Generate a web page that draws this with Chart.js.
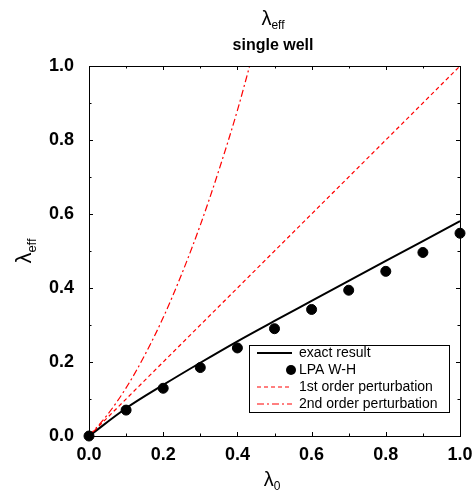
<!DOCTYPE html>
<html>
<head>
<meta charset="utf-8">
<script src="https://cdn.jsdelivr.net/npm/chart.js@4.4.1/dist/chart.umd.min.js"></script>
<style>
  html, body { margin: 0; padding: 0; background: #fff; }
  #wrap { width: 475px; height: 496px; }
</style>
</head>
<body>
<div id="wrap"><canvas id="effChart" width="475" height="496"></canvas></div>
<script>
// lambda_0 grid and the curves
var lambda0 = [0, 0.1, 0.2, 0.3, 0.4, 0.5, 0.6, 0.7, 0.8, 0.9, 1.0];
var exactResult = [0, 0.075, 0.138, 0.198, 0.256, 0.311, 0.365, 0.419, 0.473, 0.527, 0.581];
var lpaWH = [0, 0.070, 0.129, 0.185, 0.238, 0.290, 0.342, 0.394, 0.445, 0.496, 0.548];
var firstX = [0, 1.0];
var firstY = [0, 1.0];
var secondX = [0, 0.05, 0.1, 0.15, 0.2, 0.25, 0.3, 0.35, 0.4, 0.433];
var secondY = [0, 0.058, 0.13, 0.218, 0.32, 0.438, 0.57, 0.718, 0.88, 1.0];
var majorTicks = [0, 0.2, 0.4, 0.6, 0.8, 1.0];
var minorTicks = [0.1, 0.3, 0.5, 0.7, 0.9];
var legendLabels = ["exact result", "LPA W-H", "1st order perturbation", "2nd order perturbation"];

function pts(xs, ys) {
  var out = [];
  for (var i = 0; i < xs.length; i++) out.push({x: xs[i], y: ys[i]});
  return out;
}

var FONT = "'Liberation Sans', Arial, sans-serif";

// draws the frame, inward ticks, titles with subscripts and the boxed legend
var decor = {
  id: 'decor',
  afterDatasetsDraw: function (chart) {
    var ctx = chart.ctx, a = chart.chartArea;
    var xs = chart.scales.x, ys = chart.scales.y;
    ctx.save();
    ctx.strokeStyle = '#000';
    ctx.lineWidth = 1;
    ctx.strokeRect(a.left + 0.5, a.top + 0.5, a.right - a.left, a.bottom - a.top);

    function tick(v, len) {
      var px = Math.round(xs.getPixelForValue(v)) + 0.5;
      var py = Math.round(ys.getPixelForValue(v)) + 0.5;
      ctx.beginPath();
      ctx.moveTo(px, a.bottom); ctx.lineTo(px, a.bottom - len);
      ctx.moveTo(px, a.top); ctx.lineTo(px, a.top + len);
      ctx.moveTo(a.left, py); ctx.lineTo(a.left + len, py);
      ctx.moveTo(a.right, py); ctx.lineTo(a.right - len, py);
      ctx.stroke();
    }
    majorTicks.forEach(function (v) { tick(v, 4); });
    minorTicks.forEach(function (v) { tick(v, 2.5); });

    // legend box
    var lx = 249, ly = 345, lw = 200, lh = 67;
    ctx.fillStyle = '#fff';
    ctx.fillRect(lx, ly, lw, lh);
    ctx.strokeRect(lx + 0.5, ly + 0.5, lw, lh);
    var rows = [353, 370, 387, 404];
    ctx.lineWidth = 2;
    ctx.beginPath(); ctx.moveTo(257, rows[0]); ctx.lineTo(292, rows[0]); ctx.stroke();
    ctx.fillStyle = '#000';
    ctx.beginPath(); ctx.arc(291, rows[1], 5, 0, Math.PI * 2); ctx.fill();
    ctx.strokeStyle = '#ff0000';
    ctx.lineWidth = 1.2;
    ctx.setLineDash([4, 3]);
    ctx.beginPath(); ctx.moveTo(257, rows[2]); ctx.lineTo(292, rows[2]); ctx.stroke();
    ctx.setLineDash([7, 3, 2, 3]);
    ctx.beginPath(); ctx.moveTo(257, rows[3]); ctx.lineTo(292, rows[3]); ctx.stroke();
    ctx.setLineDash([]);
    ctx.fillStyle = '#000';
    ctx.font = '14px ' + FONT;
    ctx.textBaseline = 'middle';
    ctx.textAlign = 'left';
    for (var i = 0; i < legendLabels.length; i++) ctx.fillText(legendLabels[i], 299, rows[i]);

    // lambda with subscript
    function lam(x, y, sub, big, small) {
      ctx.font = big + 'px ' + FONT;
      var w1 = ctx.measureText('\u03bb').width;
      ctx.font = small + 'px ' + FONT;
      var w2 = ctx.measureText(sub).width;
      var x0 = x - (w1 + w2) / 2;
      ctx.textAlign = 'left';
      ctx.textBaseline = 'alphabetic';
      ctx.font = big + 'px ' + FONT;
      ctx.fillText('\u03bb', x0, y);
      ctx.font = small + 'px ' + FONT;
      ctx.fillText(sub, x0 + w1, y + big * 0.22);
    }
    ctx.fillStyle = '#000';
    lam(273, 25, 'eff', 20, 12);
    ctx.font = 'bold 16px ' + FONT;
    ctx.textAlign = 'center';
    ctx.textBaseline = 'middle';
    ctx.fillText('single well', 273, 46);
    lam(272, 486, '0', 20, 12);
    ctx.save();
    ctx.translate(31, 251);
    ctx.rotate(-Math.PI / 2);
    lam(0, 0, 'eff', 22, 13);
    ctx.restore();
    ctx.restore();
  }
};

var ctx = document.getElementById('effChart').getContext('2d');
new Chart(ctx, {
  type: 'scatter',
  data: {
    datasets: [
      {
        label: legendLabels[0],
        data: pts(lambda0, exactResult),
        showLine: true,
        borderColor: '#000',
        borderWidth: 2,
        pointRadius: 0,
        cubicInterpolationMode: 'monotone',
        order: 3
      },
      {
        label: legendLabels[1],
        data: pts(lambda0, lpaWH),
        showLine: false,
        backgroundColor: '#000',
        borderColor: '#000',
        pointRadius: 5,
        clip: false,
        order: 0
      },
      {
        label: legendLabels[2],
        data: pts(firstX, firstY),
        showLine: true,
        borderColor: '#ff0000',
        borderWidth: 1.2,
        borderDash: [4, 3],
        pointRadius: 0,
        order: 1
      },
      {
        label: legendLabels[3],
        data: pts(secondX, secondY),
        showLine: true,
        borderColor: '#ff0000',
        borderWidth: 1.2,
        borderDash: [7, 3, 2, 3],
        pointRadius: 0,
        cubicInterpolationMode: 'monotone',
        order: 2
      }
    ]
  },
  options: {
    responsive: false,
    animation: false,
    layout: { padding: { top: 66, right: 15, left: 0, bottom: 0 } },
    plugins: {
      legend: { display: false },
      title: { display: false },
      tooltip: { enabled: false }
    },
    scales: {
      x: {
        type: 'linear',
        min: 0, max: 1,
        afterFit: function (s) { s.height = 60; s.paddingLeft = 0; s.paddingRight = 0; },
        afterBuildTicks: function (s) { s.ticks = majorTicks.map(function (v) { return {value: v}; }); },
        grid: { display: false, drawTicks: false },
        border: { display: false },
        ticks: {
          padding: 8,
          color: '#000',
          font: { family: FONT, size: 18, weight: 'bold' },
          callback: function (v) { return v.toFixed(1); }
        }
      },
      y: {
        type: 'linear',
        min: 0, max: 1,
        afterFit: function (s) { s.width = 89; s.paddingTop = 0; s.paddingBottom = 0; },
        afterBuildTicks: function (s) { s.ticks = majorTicks.map(function (v) { return {value: v}; }); },
        grid: { display: false, drawTicks: false },
        border: { display: false },
        ticks: {
          padding: 15,
          color: '#000',
          font: { family: FONT, size: 18, weight: 'bold' },
          callback: function (v) { return v.toFixed(1); }
        }
      }
    }
  },
  plugins: [decor]
});
</script>
</body>
</html>
